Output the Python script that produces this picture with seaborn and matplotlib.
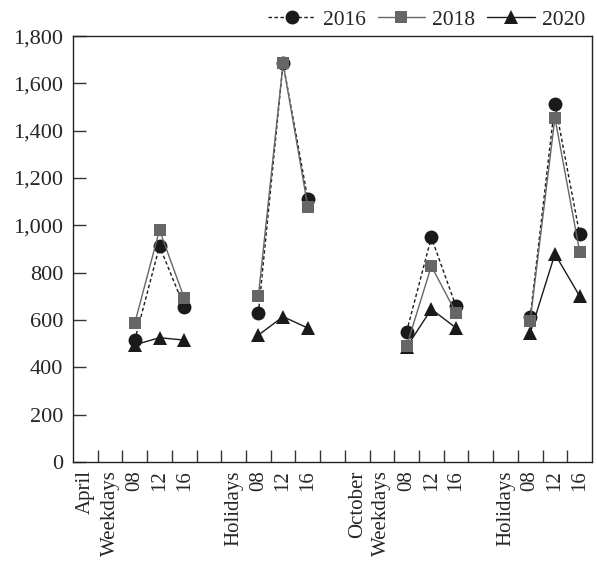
import numpy as np
import pandas as pd
import matplotlib
matplotlib.use("Agg")
import matplotlib.pyplot as plt
from matplotlib.lines import Line2D
from matplotlib.ticker import FuncFormatter, FixedLocator
import seaborn as sns

# Category axis: hourly counts (08, 12, 16) per season and day type
categories = ["April", "Weekdays", "08", "12", "16", "",
              "Holidays", "08", "12", "16", "",
              "October", "Weekdays", "08", "12", "16", "",
              "Holidays", "08", "12", "16"]

# index of the 08/12/16 slots for each group
groups = {
    "Apr-Weekdays": [2, 3, 4],
    "Apr-Holidays": [7, 8, 9],
    "Oct-Weekdays": [13, 14, 15],
    "Oct-Holidays": [18, 19, 20],
}

values_2016 = [515, 912, 656, 629, 1685, 1111, 551, 949, 657, 612, 1515, 963]
values_2018 = [587, 980, 693, 701, 1685, 1079, 490, 828, 629, 597, 1455, 889]
values_2020 = [495, 525, 515, 536, 614, 566, 485, 646, 566, 545, 879, 701]

years = ["2016", "2018", "2020"]
series = {"2016": values_2016, "2018": values_2018, "2020": values_2020}

rows = []
for year in years:
    vals = series[year]
    k = 0
    for gname, idxs in groups.items():
        for pos in idxs:
            rows.append({"pos": pos, "value": vals[k], "year": year,
                         "segment": f"{year}-{gname}"})
            k += 1
df = pd.DataFrame(rows)

sns.set_theme(style="white")
plt.rcParams["font.family"] = ["Liberation Serif", "DejaVu Serif"]
plt.rcParams["font.size"] = 15

fig = plt.figure(figsize=(5.97, 5.64), dpi=100)
ax = fig.add_axes([0.1223, 0.181, 0.8693, 0.755])

colors = {"2016": "#1a1a1a", "2018": "#666666", "2020": "#1a1a1a"}
markers = {"2016": "o", "2018": "s", "2020": "^"}
dashes = {"2016": (2.5, 1.8), "2018": "", "2020": ""}
msize = {"2016": 10, "2018": 8.8, "2020": 10}

# draw order: 2020 underneath, 2018 on top
for year in ["2020", "2016", "2018"]:
    sub = df[df["year"] == year]
    sns.lineplot(data=sub, x="pos", y="value", units="segment",
                 estimator=None, color=colors[year], marker=markers[year],
                 markersize=msize[year], markeredgewidth=0,
                 markerfacecolor=colors[year], linewidth=1.0,
                 dashes=False, ax=ax, legend=False)
    for line in ax.get_lines()[-len(groups):]:
        if year == "2016":
            line.set_dashes(dashes[year])

ax.set_xlim(-0.5, len(categories) - 0.5)
ax.set_ylim(0, 1800)
ax.set_xlabel("")
ax.set_ylabel("")

ax.set_yticks(np.arange(0, 1801, 200))
ax.yaxis.set_major_formatter(FuncFormatter(lambda v, p: f"{int(v):,}"))
ax.tick_params(axis="y", direction="in", length=9, width=1, color="#333333",
               labelsize=16, pad=7, left=True)

ax.xaxis.set_major_locator(FixedLocator(np.arange(len(categories))))
ax.set_xticklabels(categories, rotation=90, fontsize=15, va="top", ha="center")
ax.xaxis.set_minor_locator(FixedLocator(np.arange(0.5, len(categories) - 0.5, 1)))
ax.tick_params(axis="x", which="major", length=0, pad=6, bottom=True)
ax.tick_params(axis="x", which="minor", direction="in", length=9, width=1,
               color="#333333", bottom=True)

for sp in ax.spines.values():
    sp.set_visible(True)
    sp.set_color("#222222")
    sp.set_linewidth(1.0)

handles = [
    Line2D([], [], color=colors[y], marker=markers[y], markersize=msize[y],
           markeredgewidth=0, linewidth=1.0,
           linestyle=(0, dashes[y]) if y == "2016" else "-")
    for y in years
]
ax.legend(handles, years, loc="lower right", bbox_to_anchor=(1.0, 1.0),
          ncol=3, frameon=False, fontsize=15.5, handlelength=2.2,
          columnspacing=0.55, handletextpad=0.35, borderaxespad=0.3,
          borderpad=0.0)

fig.savefig("out.png", dpi=100)
